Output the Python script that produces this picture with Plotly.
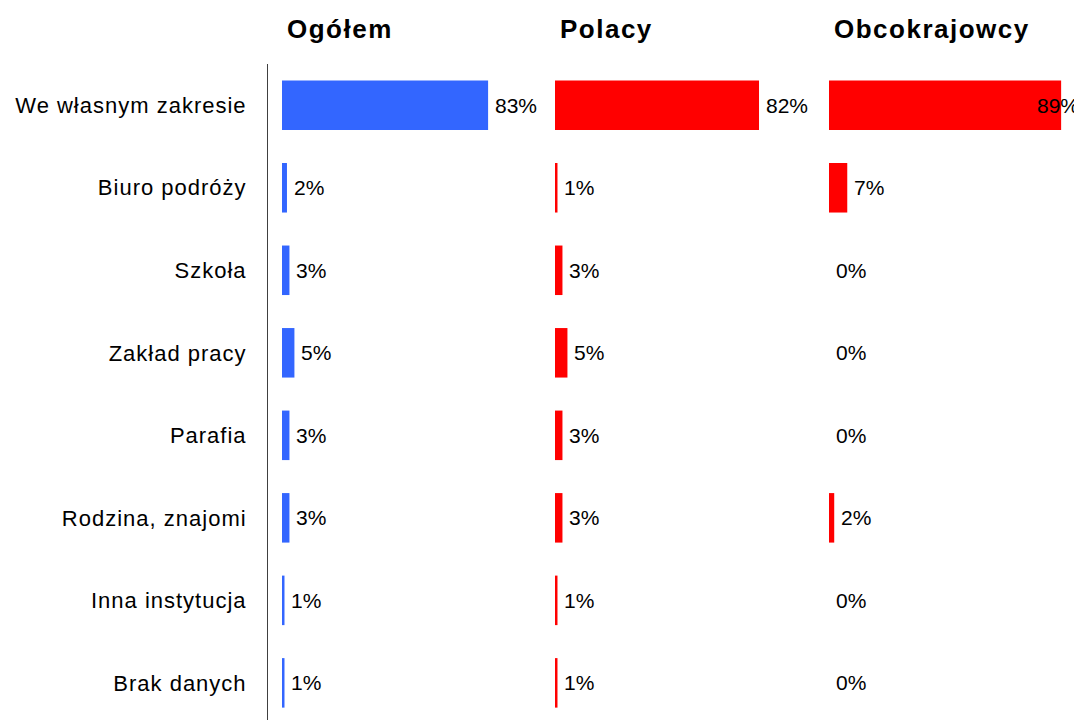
import plotly.graph_objects as go

# dane z wykresu (odsetki)
categories = ["We własnym zakresie", "Biuro podróży", "Szkoła", "Zakład pracy",
              "Parafia", "Rodzina, znajomi", "Inna instytucja", "Brak danych"]
ogolem = [83, 2, 3, 5, 3, 3, 1, 1]
polacy = [82, 1, 3, 5, 3, 3, 1, 1]
obcokrajowcy = [89, 7, 0, 0, 0, 2, 0, 0]

groups = ["Ogółem", "Polacy", "Obcokrajowcy"]
colors = ["#3366FF", "#FF0000", "#FF0000"]

# page body has an 8px margin, so the figure is a bit smaller than the window
W, H = 1074, 712
FONT = "Liberation Sans, Arial, sans-serif"

# panel domains (px) and x ranges
domains = [(260, 532), (547, 807), (821, 1074)]
ranges = [(-5.64, 103.9), (0, 104.5), (0, 97.0)]


def spaced(txt, px):
    return f'<span style="letter-spacing:{px}px">{txt}</span>'


fig = go.Figure()
annotations = []
series = [ogolem, polacy, obcokrajowcy]

for i, (name, vals, col) in enumerate(zip(groups, series, colors)):
    xa = "x" if i == 0 else f"x{i + 1}"
    fig.add_trace(go.Bar(
        x=vals, y=categories, orientation="h", name=name,
        marker=dict(color=col, line=dict(width=0)),
        width=0.6, xaxis=xa, yaxis="y", showlegend=False,
        hoverinfo="x+y",
    ))
    xr = ranges[i]
    for v, c in zip(vals, categories):
        if v > 0.85 * xr[1]:
            # label would not fit, keep it at panel edge
            annotations.append(dict(x=xr[1], y=c, xref=xa, yref="y", text=f"{v}%",
                                    showarrow=False, xanchor="right", xshift=-1,
                                    font=dict(family=FONT, size=21, color="black")))
        else:
            annotations.append(dict(x=v, y=c, xref=xa, yref="y", text=f"{v}%",
                                    showarrow=False, xanchor="left", xshift=5,
                                    font=dict(family=FONT, size=21, color="black")))
    # panel title
    annotations.append(dict(x=0, y=1.0534, xref=xa, yref="paper",
                            text=f"<b>{spaced(name, 1.5)}</b>",
                            showarrow=False, xanchor="left", yanchor="middle", xshift=3,
                            font=dict(family=FONT, size=26, color="black")))

layout = dict(
    width=W, height=H,
    margin=dict(l=0, r=0, t=56, b=0),
    paper_bgcolor="white", plot_bgcolor="white",
    annotations=annotations,
    yaxis=dict(
        categoryorder="array", categoryarray=categories,
        tickvals=categories, ticktext=[spaced(c, 1) for c in categories],
        range=[7.45, -0.5], anchor="x",
        showline=True, linecolor="#404040", linewidth=1,
        showgrid=False, zeroline=False, ticks="",
        ticklabelstandoff=16, automargin=False,
        tickfont=dict(family=FONT, size=22, color="black"),
    ),
)
for i, ((d0, d1), xr) in enumerate(zip(domains, ranges)):
    key = "xaxis" if i == 0 else f"xaxis{i + 1}"
    layout[key] = dict(domain=[d0 / W, d1 / W], range=list(xr), anchor="y",
                       showgrid=False, zeroline=False, showline=False,
                       showticklabels=False, ticks="", fixedrange=True)

fig.update_layout(**layout)
fig.write_html("out.html")
